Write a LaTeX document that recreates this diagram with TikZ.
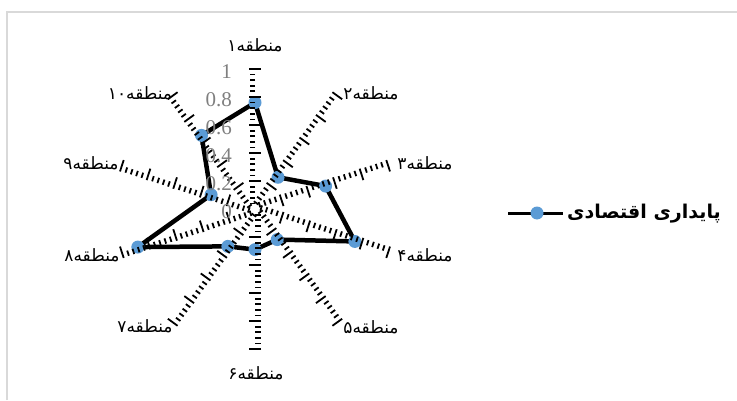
\documentclass[tikz,border=0pt]{standalone}
\usepackage{fontspec}
\usetikzlibrary{calc}
\setmainfont{Liberation Serif}
\newfontfamily\arabicfont[Script=Arabic]{DejaVu Sans}
\TeXXeTstate=1
\definecolor{mk}{HTML}{5B9BD5}
\definecolor{framec}{HTML}{D9D9D9}
\definecolor{valc}{HTML}{7F7F7F}
\tikzset{
  tickmaj/.style={line width=1.8pt},
  tickmin/.style={line width=1.8pt},
  series/.style={line width=4.5pt, line join=round},
  marker/.style={circle, fill=mk, draw=none, minimum size=13pt, inner sep=0pt},
  catlbl/.style={font=\arabicfont\fontsize{17}{19}\selectfont, inner sep=0pt},
  vallbl/.style={font=\fontsize{21}{23}\selectfont, text=valc, anchor=east, inner sep=0pt},
  leglbl/.style={font=\arabicfont\bfseries\fontsize{19}{21}\selectfont, anchor=west, inner sep=0pt}
}
\begin{document}
\begin{tikzpicture}[x=1pt,y=1pt]
\useasboundingbox (0,0) rectangle (737,400);
\draw[framec, line width=1.5pt] (7,0) -- (7,388) -- (737,388);
\coordinate (O) at (255,191);
% data points
\foreach \k/\v in {1/0.76,2/0.28,3/0.53,4/0.75,5/0.27,6/0.29,7/0.33,8/0.88,9/0.33,10/0.65}{
  \pgfmathsetmacro\ang{90-36*(\k-1)}
  \coordinate (d\k) at ($(O)+(\ang:{\v*140})$);
}
\draw[series] (d1) -- (d2) -- (d3) -- (d4) -- (d5) -- (d6) -- (d7) -- (d8) -- (d9) -- (d10) -- cycle;
\foreach \k in {1,...,10}{\node[marker] (m\k) at (d\k) {};}
% axes made of ticks
\foreach \k in {1,...,10}{
  \pgfmathsetmacro\ang{90-36*(\k-1)}
  \foreach \i in {1,...,25}{
    \pgfmathsetmacro\r{\i*5.6}
    \pgfmathtruncatemacro\ismaj{mod(\i,5)==0 ? 1 : 0}
    \ifnum\ismaj=1
      \draw[tickmaj] ($(O)+(\ang:\r)$) ++(\ang+90:6) -- ++(\ang-90:12);
    \else
      \draw[tickmin] ($(O)+(\ang:\r)$) -- ++(\ang+90:5.5);
    \fi
  }
}
% value labels
\foreach \v/\t in {0/0,0.2/0.2,0.4/0.4,0.6/0.6,0.8/0.8,1/1}{
  \node[vallbl] (v\t) at (232,{191+\v*140-3}) {\t};
}
% category labels
\node[catlbl] (c1) at (255,355) {\beginR منطقه۱\endR};
\node[catlbl] (c2) at (371,307) {\beginR منطقه۲\endR};
\node[catlbl] (c3) at (425,237) {\beginR منطقه۳\endR};
\node[catlbl] (c4) at (425,145) {\beginR منطقه۴\endR};
\node[catlbl] (c5) at (371,73) {\beginR منطقه۵\endR};
\node[catlbl] (c6) at (256,27) {\beginR منطقه۶\endR};
\node[catlbl] (c7) at (145,74) {\beginR منطقه۷\endR};
\node[catlbl] (c8) at (92,145) {\beginR منطقه۸\endR};
\node[catlbl] (c9) at (91,237) {\beginR منطقه۹\endR};
\node[catlbl] (c10) at (140,307) {\beginR منطقه\beginL ۱۰\endL\endR};
% legend
\coordinate (la) at (508,187);
\coordinate (lb) at (563,187);
\draw[line width=3pt] (la) -- (lb);
\node[marker] (lm) at (537,187) {};
\node[leglbl] (lt) at (567,186) {\beginR پایداری اقتصادی\endR};
\end{tikzpicture}
\end{document}
